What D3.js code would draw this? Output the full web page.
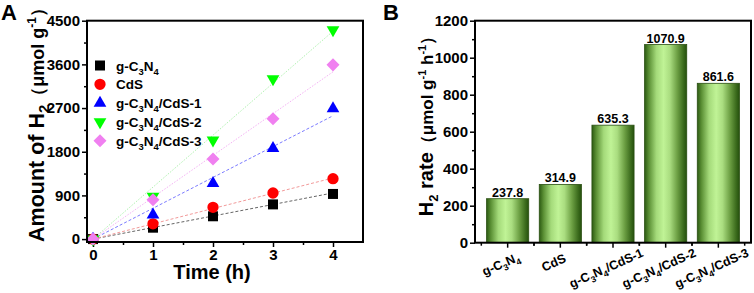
<!DOCTYPE html>
<html><head><meta charset="utf-8">
<script src="https://cdn.jsdelivr.net/npm/d3@7"></script>
<style>
body{margin:0;background:#fff}
svg{display:block}
text{font-family:"Liberation Sans",Arial,sans-serif;font-weight:bold;fill:#000}
</style>
</head><body>
<svg id="c" width="754" height="293"></svg>
<script>
// ---------- data ----------
const times = [0, 1, 2, 3, 4];
const seriesNames = ["g-C3N4", "CdS", "g-C3N4/CdS-1", "g-C3N4/CdS-2", "g-C3N4/CdS-3"];
const gc3n4 = [0, 235, 470, 715, 930];
const cds = [0, 315, 655, 950, 1245];
const cds1 = [0, 500, 1150, 1870, 2690];
const cds2 = [0, 880, 2040, 3300, 4310];
const cds3 = [0, 810, 1650, 2480, 3590];
const rates = [237.8, 314.9, 635.3, 1070.9, 861.6];
const rateLabels = ["237.8", "314.9", "635.3", "1070.9", "861.6"];
const yTicksA = [0, 900, 1800, 2700, 3600, 4500];
const yMinorA = [450, 1350, 2250, 3150, 4050];
const xTicksA = [0, 1, 2, 3, 4];
const xMinorA = [0.5, 1.5, 2.5, 3.5];
const yTicksB = [0, 200, 400, 600, 800, 1000, 1200];
const yMinorB = [100, 300, 500, 700, 900, 1100];

const seriesValues = [gc3n4, cds, cds1, cds2, cds3];
const markerColors = ["#000000", "#ff0000", "#0000ff", "#00ff00", "#f080f0"];
const fitColors = ["#666666", "#f29a9a", "#7b7bff", "#b0f2b0", "#f5b3f5"];
const fitDash = ["3,2", "3,2", "3,2", "1.5,1.5", "1.5,1.5"];

const svg = d3.select("#c");

// formula helper: digits after C or N become subscripts
function formula(textSel, str, fs) {
  const runs = [];
  let prev = "";
  for (const ch of str) {
    const sub = /\d/.test(ch) && /[CN]/.test(prev);
    if (runs.length && runs[runs.length - 1].sub === sub) runs[runs.length - 1].s += ch;
    else runs.push({ s: ch, sub });
    prev = ch;
  }
  let shifted = false;
  runs.forEach(r => {
    const t = textSel.append("tspan").text(r.s);
    if (r.sub) { t.attr("font-size", fs * 0.7).attr("dy", shifted ? 0 : fs * 0.3); shifted = true; }
    else { t.attr("font-size", fs).attr("dy", shifted ? -fs * 0.3 : 0); shifted = false; }
  });
}

// ---------- Panel A ----------
const xA = d3.scaleLinear().domain([-0.1, 4.5]).range([87, 363]);
const yA = d3.scaleLinear().domain([-60, 4500]).range([242, 20.7]);
const gA = svg.append("g");

function styleAxis(g, fs) {
  g.select(".domain").remove();
  g.selectAll("line").attr("stroke", "#000").attr("stroke-width", 1.5);
  g.selectAll("text").attr("font-size", fs).attr("font-weight", "bold")
    .attr("font-family", '"Liberation Sans",Arial,sans-serif');
}

gA.append("g").attr("transform", "translate(87,0)")
  .call(d3.axisLeft(yA).tickValues(yTicksA).tickSize(5).tickPadding(2).tickFormat(d3.format("d")))
  .call(g => styleAxis(g, 15));
gA.append("g").attr("transform", "translate(87,0)")
  .call(d3.axisLeft(yA).tickValues(yMinorA).tickSize(3).tickFormat(""))
  .call(g => styleAxis(g, 15));
gA.append("g").attr("transform", "translate(0,242)")
  .call(d3.axisBottom(xA).tickValues(xTicksA).tickSize(5).tickPadding(2).tickFormat(d3.format("d")))
  .call(g => styleAxis(g, 15));
gA.append("g").attr("transform", "translate(0,242)")
  .call(d3.axisBottom(xA).tickValues(xMinorA).tickSize(3).tickFormat(""))
  .call(g => styleAxis(g, 15));

// fit lines
const fitLine = d3.line().x(d => xA(d.t)).y(d => yA(d.v));
rates.forEach((r, i) => {
  gA.append("path")
    .datum(times.map(t => ({ t, v: r * t })))
    .attr("d", fitLine).attr("fill", "none")
    .attr("stroke", fitColors[i]).attr("stroke-width", 1)
    .attr("stroke-dasharray", fitDash[i]);
});

// markers
const symbols = [
  { type: d3.symbolSquare, size: 100, rot: 0 },
  { type: d3.symbolCircle, size: 100, rot: 0 },
  { type: d3.symbolTriangle, size: 70, rot: 0 },
  { type: d3.symbolTriangle, size: 70, rot: 180 },
  { type: d3.symbolSquare, size: 85, rot: 45 }
];
seriesValues.forEach((vals, i) => {
  const s = symbols[i];
  gA.append("g").selectAll("path").data(times).join("path")
    .attr("d", d3.symbol().type(s.type).size(s.size))
    .attr("transform", (t, j) => `translate(${xA(t)},${yA(vals[j])}) rotate(${s.rot})`)
    .attr("fill", markerColors[i]);
});

// legend
seriesNames.forEach((name, i) => {
  const y = 65.5 + 18.8 * i;
  const s = symbols[i];
  gA.append("path").attr("d", d3.symbol().type(s.type).size(s.size))
    .attr("transform", `translate(100,${y}) rotate(${s.rot})`)
    .attr("fill", markerColors[i]);
  const t = gA.append("text").attr("x", 116).attr("y", y + 5);
  formula(t, name, 13.5);
});

// frame
gA.append("rect").attr("x", 87).attr("y", 20.7).attr("width", 276).attr("height", 221.3)
  .attr("fill", "none").attr("stroke", "#000").attr("stroke-width", 2);

// titles
const ttA = gA.append("text").attr("transform", "translate(44,242) rotate(-90)").attr("text-anchor", "start");
ttA.append("tspan").attr("font-size", 21.5).text("Amount of H");
ttA.append("tspan").attr("font-size", 15).attr("dy", 5).text("2");
ttA.append("tspan").attr("font-size", 18).attr("dy", -5).text("（μmol g");
ttA.append("tspan").attr("font-size", 12).attr("dy", -8).text("-1");
ttA.append("tspan").attr("font-size", 18).attr("dy", 8).text("）");

gA.append("text").attr("x", 212).attr("y", 279).attr("text-anchor", "middle")
  .attr("font-size", 20).text("Time (h)");
gA.append("text").attr("x", 1).attr("y", 20).attr("font-size", 22).text("A");

// ---------- Panel B ----------
const xB = d3.scaleBand().domain(seriesNames).range([475, 751]).paddingInner(0.2).paddingOuter(0.22);
const yB = d3.scaleLinear().domain([0, 1200]).range([242.7, 20.7]);
const gB = svg.append("g");

const defs = svg.append("defs");
const grad = defs.append("linearGradient").attr("id", "barGrad")
  .attr("x1", "0%").attr("x2", "100%").attr("y1", "0%").attr("y2", "0%");
[[0, "#2c5a12"], [0.1, "#5a8f34"], [0.28, "#a4da7a"], [0.45, "#c0f396"], [0.6, "#aadd80"],
 [0.78, "#6b9e42"], [0.92, "#3c6c1d"], [1, "#25500d"]].forEach(([o, c]) =>
  grad.append("stop").attr("offset", o).attr("stop-color", c));

gB.append("g").attr("transform", "translate(475,0)")
  .call(d3.axisLeft(yB).tickValues(yTicksB).tickSize(5).tickPadding(2).tickFormat(d3.format("d")))
  .call(g => styleAxis(g, 15));
gB.append("g").attr("transform", "translate(475,0)")
  .call(d3.axisLeft(yB).tickValues(yMinorB).tickSize(3).tickFormat(""))
  .call(g => styleAxis(g, 15));

// x ticks (major at bar centres, minor between)
const step = xB.step();
const xg = gB.append("g");
seriesNames.forEach((n, i) => {
  const cx = xB(n) + xB.bandwidth() / 2;
  xg.append("line").attr("x1", cx).attr("x2", cx).attr("y1", 242.7).attr("y2", 247.7)
    .attr("stroke", "#000").attr("stroke-width", 1.5);
  [cx - step / 2, cx + step / 2].forEach(mx => {
    if (mx < 751)
      xg.append("line").attr("x1", mx).attr("x2", mx).attr("y1", 242.7).attr("y2", 245.7)
        .attr("stroke", "#000").attr("stroke-width", 1.5);
  });
});

gB.append("g").selectAll("rect").data(rates).join("rect")
  .attr("x", (d, i) => xB(seriesNames[i]))
  .attr("width", xB.bandwidth())
  .attr("y", d => yB(d))
  .attr("height", d => yB(0) - yB(d))
  .attr("fill", "url(#barGrad)")
  .attr("stroke", "#2a4f12").attr("stroke-width", 0.8);

gB.append("g").selectAll("text").data(rates).join("text")
  .attr("x", (d, i) => xB(seriesNames[i]) + xB.bandwidth() / 2)
  .attr("y", d => yB(d) - 2)
  .attr("text-anchor", "middle").attr("font-size", 12.5)
  .text((d, i) => rateLabels[i]);

// rotated category labels
const ang = 24;
seriesNames.forEach(n => {
  const cx = xB(n) + xB.bandwidth() / 2 - 5;
  const t = gB.append("text").attr("text-anchor", "middle");
  formula(t, n, 12.5);
  const L = t.node().getComputedTextLength();
  const cy = 264 + (L / 2) * Math.sin(ang * Math.PI / 180) * 0.5;
  t.attr("transform", `translate(${cx},${cy}) rotate(${-ang})`);
});

gB.append("rect").attr("x", 475).attr("y", 20.7).attr("width", 276).attr("height", 222)
  .attr("fill", "none").attr("stroke", "#000").attr("stroke-width", 2);

const ttB = gB.append("text").attr("transform", "translate(433,122) rotate(-90)").attr("text-anchor", "middle");
ttB.append("tspan").attr("font-size", 20).text("H");
ttB.append("tspan").attr("font-size", 13).attr("dy", 5).text("2");
ttB.append("tspan").attr("font-size", 20).attr("dy", -5).text(" rate");
ttB.append("tspan").attr("font-size", 17).text("（μmol g");
ttB.append("tspan").attr("font-size", 11).attr("dy", -7).text("-1");
ttB.append("tspan").attr("font-size", 17).attr("dy", 7).text(" h");
ttB.append("tspan").attr("font-size", 11).attr("dy", -7).text("-1");
ttB.append("tspan").attr("font-size", 17).attr("dy", 7).text("）");

gB.append("text").attr("x", 383).attr("y", 20).attr("font-size", 22).text("B");
</script>
</body></html>
